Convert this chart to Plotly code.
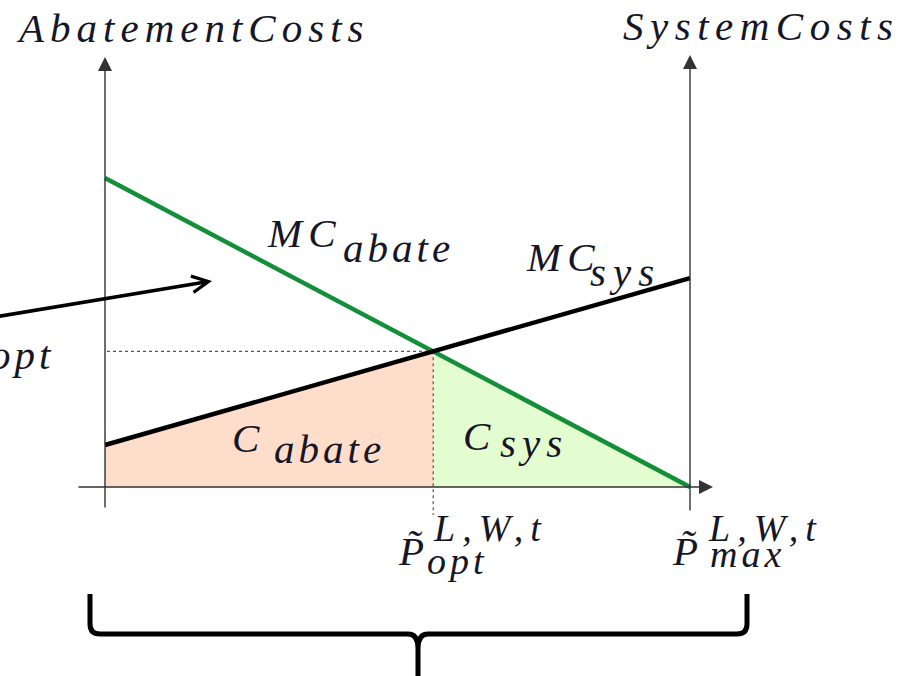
import plotly.graph_objects as go

# ---- data: normalised quantity axis and the two linear marginal-cost curves
p_points = [0.0, 1.0]        # 0 and P_max
mc_abate = [1.0, 0.0]        # marginal abatement cost
mc_sys = [0.136, 0.676]      # marginal system cost

p_max = p_points[1]
slope_a = (mc_abate[1] - mc_abate[0]) / (p_points[1] - p_points[0])
slope_s = (mc_sys[1] - mc_sys[0]) / (p_points[1] - p_points[0])
p_opt = (mc_sys[0] - mc_abate[0]) / (slope_a - slope_s)
c_opt = mc_abate[0] + slope_a * p_opt

W, H = 903, 676
# canvas scale: pixels per unit and position of the origin
SX, SY, OX, OY = 585.0, 309.0, 105.0, 487.0


def X(px):
    return (px - OX) / SX


def Y(py):
    return (OY - py) / SY


FONT = "Liberation Serif"
INK = "#161626"

fig = go.Figure()

# shaded cost areas
fig.add_trace(go.Scatter(
    x=[0, 0, p_opt, p_opt], y=[0, mc_sys[0], c_opt, 0],
    fill="toself", fillcolor="#FFDDCB", mode="lines", line=dict(width=0),
    hoverinfo="skip"))
fig.add_trace(go.Scatter(
    x=[p_opt, p_opt, p_max], y=[0, c_opt, 0],
    fill="toself", fillcolor="#E4FDD0", mode="lines", line=dict(width=0),
    hoverinfo="skip"))

# dotted guides to the optimum
fig.add_trace(go.Scatter(x=[X(107), p_opt], y=[c_opt, c_opt], mode="lines",
                         line=dict(color="#555", width=1.2, dash="dot")))
fig.add_trace(go.Scatter(x=[p_opt, p_opt], y=[c_opt, Y(515)], mode="lines",
                         line=dict(color="#555", width=1.2, dash="dot")))

# marginal cost curves
fig.add_trace(go.Scatter(x=p_points, y=mc_abate, mode="lines",
                         line=dict(color="#128F38", width=4.5)))
fig.add_trace(go.Scatter(x=p_points, y=mc_sys, mode="lines",
                         line=dict(color="#000000", width=4.5)))

ann = []


def axis_arrow(x0, y0, x1, y1):
    ann.append(dict(x=x1, y=y1, ax=x0, ay=y0, xref="x", yref="y",
                    axref="x", ayref="y", text="", showarrow=True,
                    arrowhead=2, arrowsize=2, arrowwidth=1.4,
                    arrowcolor="#333"))


axis_arrow(X(77), 0, X(713), 0)          # quantity axis
axis_arrow(0, Y(509), 0, Y(57))          # abatement cost axis
axis_arrow(p_max, Y(512), p_max, Y(55))  # system cost axis

# pointer arrow
ann.append(dict(x=X(212), y=Y(281), ax=X(-5), ay=Y(317), xref="x", yref="y",
                axref="x", ayref="y", text="", showarrow=True,
                arrowhead=5, arrowsize=0.9, arrowwidth=3.6,
                arrowcolor="#000"))


def label(text, px, baseline, size, spacing=6, anchor="left"):
    body = (f"<span style='font-family:{FONT};letter-spacing:{spacing}px'>"
            f"{text}</span>")
    ann.append(dict(x=X(px), y=Y(baseline - 0.3375 * size), xref="x",
                    yref="y", text="<i>" + body + "</i>",
                    showarrow=False,
                    xanchor=anchor, yanchor="middle",
                    font=dict(family=FONT, size=size, color=INK)))


label("AbatementCosts", 14, 42, 41)
label("SystemCosts", 621, 40, 41, 6.5)
label("MC", 265, 247, 41)
label("abate", 341, 262, 41, 4)
label("MC", 524, 271, 41)
label("sys", 588, 286, 41, 7)
label("C", 230, 452, 41)
label("abate", 272, 463, 41, 4)
label("C", 461, 450, 41)
label("sys", 498, 457, 41, 6)
label("opt", 56, 369, 41, 4, anchor="right")
label("P\u0303", 396, 565, 41, 0)
label("L,W,t", 431, 541, 38, 7)
label("opt", 425, 574, 38, 4)
label("P\u0303", 670, 565, 41, 0)
label("L,W,t", 706, 541, 38, 7)
label("max", 708, 567, 38, 4)

# brace under the horizontal axis
bx0, bx1, bxm, by0, by1 = X(90), X(747), X(418), Y(594), Y(634)
r = X(100) - X(90)
ry = Y(624) - Y(634)
ystem = Y(676)
ycusp = Y(648)
brace = (f"M {bx0} {by0} L {bx0} {by1 + ry} Q {bx0} {by1} {bx0 + r} {by1} "
         f"L {bxm - r} {by1} Q {bxm} {by1} {bxm} {ycusp} L {bxm} {ystem} "
         f"M {bxm} {ycusp} Q {bxm} {by1} {bxm + r} {by1} "
         f"L {bx1 - r} {by1} Q {bx1} {by1} {bx1} {by1 + ry} L {bx1} {by0}")
fig.add_shape(type="path", path=brace, xref="x", yref="y",
              line=dict(color="#000", width=5))

fig.update_layout(
    width=W, height=H, autosize=False,
    margin=dict(l=0, r=0, t=0, b=0),
    font=dict(family=FONT, color=INK),
    paper_bgcolor="white", plot_bgcolor="white",
    showlegend=False, annotations=ann,
    xaxis=dict(range=[X(0), X(W)], visible=False, fixedrange=True),
    yaxis=dict(range=[Y(H), Y(0)], visible=False, fixedrange=True),
)

fig.write_html("out.html")
